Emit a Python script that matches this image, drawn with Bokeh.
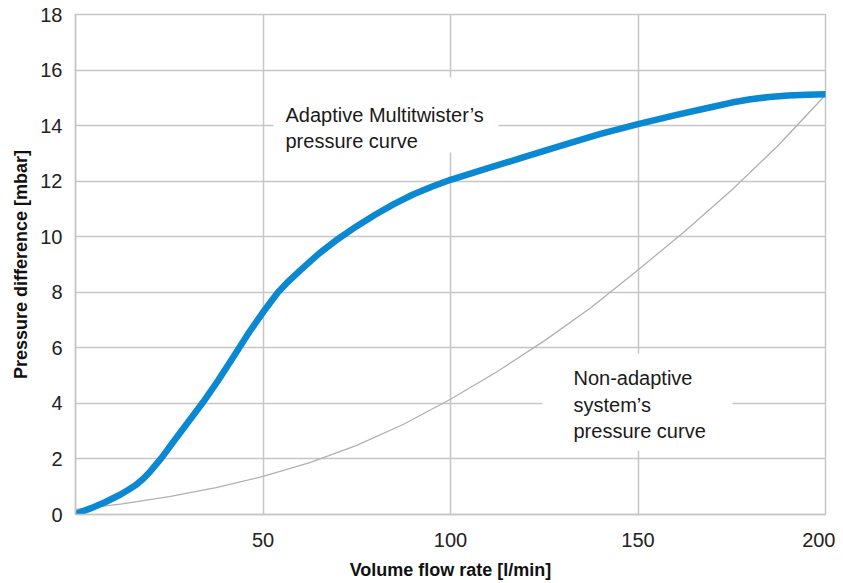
from bokeh.plotting import figure
from bokeh.models import Label, BoxAnnotation, FixedTicker
from bokeh.embed import file_html
from bokeh.resources import INLINE

# Data
adaptive_x = [0, 4, 8, 12, 14, 16, 18, 20, 23, 26, 30, 34, 38, 42, 46, 50, 54, 57, 60,
              65, 70, 75, 80, 85, 90, 95, 100, 110, 120, 130, 140, 150, 160, 170, 175,
              180, 185, 190, 195, 200]
adaptive_y = [0.02, 0.22, 0.45, 0.72, 0.88, 1.05, 1.28, 1.56, 2.05, 2.6, 3.32, 4.04,
              4.82, 5.65, 6.5, 7.28, 8.0, 8.42, 8.8, 9.4, 9.92, 10.38, 10.8, 11.18,
              11.52, 11.8, 12.05, 12.47, 12.88, 13.3, 13.7, 14.05, 14.38, 14.68, 14.83,
              14.95, 15.03, 15.08, 15.11, 15.13]
nonadaptive_x = [0, 12.5, 25, 37.5, 50, 62.5, 75, 87.5, 100, 112.5, 125, 137.5, 150,
                 162.5, 175, 187.5, 200]
nonadaptive_y = [0.18, 0.38, 0.64, 0.97, 1.37, 1.87, 2.49, 3.25, 4.15, 5.15, 6.25, 7.45,
                 8.8, 10.2, 11.68, 13.3, 15.1]
x_ticks = [50, 100, 150, 200]
y_ticks = [0, 2, 4, 6, 8, 10, 12, 14, 16, 18]
label1_lines = ["Adaptive Multitwister\u2019s", "pressure curve"]
label2_lines = ["Non-adaptive", "system\u2019s", "pressure curve"]

FONT = "Liberation Sans"
GRID = "#c6c6c6"

p = figure(width=835, height=582, output_backend="svg", toolbar_location=None,
           x_range=(0, 200), y_range=(0, 18),
           min_border_left=75, min_border_right=10, min_border_top=14,
           min_border_bottom=68)

p.outline_line_color = GRID
p.outline_line_width = 1.5
p.background_fill_color = "white"

for ax in (p.xaxis[0], p.yaxis[0]):
    ax.axis_line_color = GRID
    ax.axis_line_width = 1.5
    ax.major_tick_line_color = None
    ax.minor_tick_line_color = None
    ax.major_label_text_font = FONT
    ax.major_label_text_font_size = "20px"
    ax.major_label_text_color = "#222222"
    ax.axis_label_text_font = FONT
    ax.axis_label_text_font_style = "bold"
    ax.axis_label_text_font_size = "18px"
    ax.axis_label_text_color = "#111111"

p.xaxis.ticker = FixedTicker(ticks=x_ticks)
p.yaxis.ticker = FixedTicker(ticks=y_ticks)
p.xaxis.axis_label = "Volume flow rate [l/min]"
p.yaxis.axis_label = "Pressure difference [mbar]"
p.xaxis.major_label_standoff = 12
p.xaxis.axis_label_standoff = 10
p.yaxis.major_label_standoff = 7
p.yaxis.axis_label_standoff = 6

p.xgrid.ticker = FixedTicker(ticks=x_ticks)
p.ygrid.ticker = FixedTicker(ticks=y_ticks)
p.xgrid.grid_line_color = GRID
p.ygrid.grid_line_color = GRID
p.xgrid.grid_line_width = 1.5
p.ygrid.grid_line_width = 1.5

p.line(nonadaptive_x, nonadaptive_y, line_color="#b0b0b0", line_width=1.3,
       line_join="round")
p.line(adaptive_x, adaptive_y, line_color="#0a88d1", line_width=6.5, line_cap="round",
       line_join="round")

# White boxes behind labels
p.add_layout(BoxAnnotation(left=52.8, right=112.8, bottom=13.03, top=15.73,
                           fill_color="white", fill_alpha=1, line_color=None))
p.add_layout(BoxAnnotation(left=124.5, right=175.2, bottom=2.3, top=5.8,
                           fill_color="white", fill_alpha=1, line_color=None))

def add_lines(lines, x, y0, dy):
    for i, t in enumerate(lines):
        p.add_layout(Label(x=x, y=y0 - i * dy, text=t, text_font=FONT,
                           text_font_size="20px", text_color="#1a1a1a",
                           text_align="left", text_baseline="middle"))

add_lines(label1_lines, 56.0, 14.4, 0.94)
add_lines(label2_lines, 132.8, 4.9, 0.94)

open("out.html", "w").write(file_html(p, INLINE))
